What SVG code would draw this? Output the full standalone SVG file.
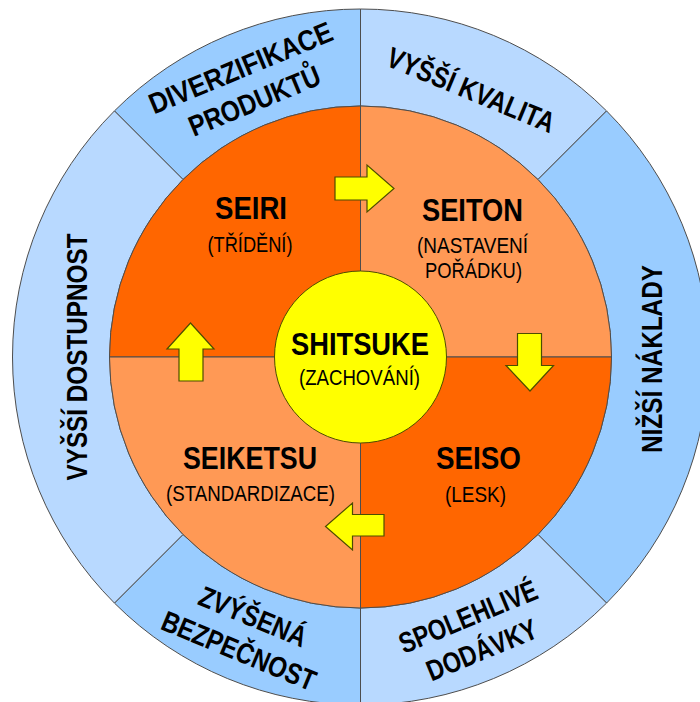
<svg xmlns="http://www.w3.org/2000/svg" width="700" height="702" viewBox="0 0 700 702">
  <style>
    .seg { stroke: #4d4d4d; stroke-width: 1; }
    .blue-d { fill: #99CCFF; }
    .blue-l { fill: #B8D9FF; }
    .org-d { fill: #FF6600; }
    .org-l { fill: #FF9955; }
    .core { fill: #FFFF00; stroke: #4d4d00; stroke-width: 1; }
    .arrow { fill: #FFFF00; stroke: #4d4d00; stroke-width: 1.2; stroke-linejoin: miter; }
    text { font-family: "Liberation Sans", Arial, sans-serif; fill: #000; text-anchor: middle; }
    .t-main { font-weight: bold; font-size: 31px; }
    .t-sub { font-size: 22px; }
    .t-ring { font-weight: bold; font-size: 29px; }
  </style>

  <rect width="700" height="702" fill="#FFFFFF"/>

  <!-- outer ring: benefits -->
  <g id="ring-diverzifikace">
    <path class="seg blue-d" d="M114.43,110.93 A348,348 0 0 1 360.5,9 L360.5,106 A251,251 0 0 0 183.02,179.52 Z"/>
    <text class="t-ring" transform="rotate(-22.5 360.5 357)" x="360.5" y="54" textLength="196" lengthAdjust="spacingAndGlyphs">DIVERZIFIKACE</text>
    <text class="t-ring" transform="rotate(-22.5 360.5 357)" x="360.5" y="90" textLength="140" lengthAdjust="spacingAndGlyphs">PRODUKTŮ</text>
  </g>
  <g id="ring-kvalita">
    <path class="seg blue-l" d="M360.5,9 A348,348 0 0 1 606.57,110.93 L537.98,179.52 A251,251 0 0 0 360.5,106 Z"/>
    <text class="t-ring" transform="rotate(22.5 360.5 357)" x="360.5" y="78" textLength="179" lengthAdjust="spacingAndGlyphs">VYŠŠÍ KVALITA</text>
  </g>
  <g id="ring-naklady">
    <path class="seg blue-d" d="M606.57,110.93 A348,348 0 0 1 606.57,603.07 L537.98,534.48 A251,251 0 0 0 537.98,179.52 Z"/>
    <text class="t-ring" transform="translate(662 359) rotate(-90)" x="0" y="0" textLength="188" lengthAdjust="spacingAndGlyphs">NIŽŠÍ NÁKLADY</text>
  </g>
  <g id="ring-dodavky">
    <path class="seg blue-l" d="M606.57,603.07 A348,348 0 0 1 360.5,705 L360.5,608 A251,251 0 0 0 537.98,534.48 Z"/>
    <text class="t-ring" transform="rotate(-22.5 360.5 357)" x="360.5" y="648" textLength="147" lengthAdjust="spacingAndGlyphs">SPOLEHLIVÉ</text>
    <text class="t-ring" transform="rotate(-22.5 360.5 357)" x="360.5" y="684" textLength="117" lengthAdjust="spacingAndGlyphs">DODÁVKY</text>
  </g>
  <g id="ring-bezpecnost">
    <path class="seg blue-d" d="M360.5,705 A348,348 0 0 1 114.43,603.07 L183.02,534.48 A251,251 0 0 0 360.5,608 Z"/>
    <text class="t-ring" transform="rotate(22.5 360.5 357)" x="360.5" y="648" textLength="114" lengthAdjust="spacingAndGlyphs">ZVÝŠENÁ</text>
    <text class="t-ring" transform="rotate(22.5 360.5 357)" x="360.5" y="685" textLength="164" lengthAdjust="spacingAndGlyphs">BEZPEČNOST</text>
  </g>
  <g id="ring-dostupnost">
    <path class="seg blue-l" d="M114.43,603.07 A348,348 0 0 1 114.43,110.93 L183.02,179.52 A251,251 0 0 0 183.02,534.48 Z"/>
    <text class="t-ring" transform="translate(87 357) rotate(-90)" x="0" y="0" textLength="247" lengthAdjust="spacingAndGlyphs">VYŠŠÍ DOSTUPNOST</text>
  </g>

  <!-- inner quadrants: the 5S steps -->
  <g id="seiri">
    <path class="seg org-d" d="M360.5,357 L109.5,357 A251,251 0 0 1 360.5,106 Z"/>
    <text class="t-main" x="251" y="219" textLength="72" lengthAdjust="spacingAndGlyphs">SEIRI</text>
    <text class="t-sub" x="250" y="252" textLength="85" lengthAdjust="spacingAndGlyphs">(TŘÍDĚNÍ)</text>
  </g>
  <g id="seiton">
    <path class="seg org-l" d="M360.5,357 L360.5,106 A251,251 0 0 1 611.5,357 Z"/>
    <text class="t-main" x="472.5" y="221" textLength="101" lengthAdjust="spacingAndGlyphs">SEITON</text>
    <text class="t-sub" x="472.5" y="253" textLength="111" lengthAdjust="spacingAndGlyphs">(NASTAVENÍ</text>
    <text class="t-sub" x="473.5" y="278" textLength="97" lengthAdjust="spacingAndGlyphs">POŘÁDKU)</text>
  </g>
  <g id="seiso">
    <path class="seg org-d" d="M360.5,357 L611.5,357 A251,251 0 0 1 360.5,608 Z"/>
    <text class="t-main" x="478.5" y="469" textLength="85" lengthAdjust="spacingAndGlyphs">SEISO</text>
    <text class="t-sub" x="475.5" y="502" textLength="61" lengthAdjust="spacingAndGlyphs">(LESK)</text>
  </g>
  <g id="seiketsu">
    <path class="seg org-l" d="M360.5,357 L360.5,608 A251,251 0 0 1 109.5,357 Z"/>
    <text class="t-main" x="250" y="469" textLength="134" lengthAdjust="spacingAndGlyphs">SEIKETSU</text>
    <text class="t-sub" x="250.5" y="501" textLength="169" lengthAdjust="spacingAndGlyphs">(STANDARDIZACE)</text>
  </g>

  <!-- centre -->
  <g id="shitsuke">
    <circle class="core" cx="360.5" cy="357" r="86"/>
    <text class="t-main" x="360" y="355" textLength="138" lengthAdjust="spacingAndGlyphs">SHITSUKE</text>
    <text class="t-sub" x="359.5" y="385" textLength="121" lengthAdjust="spacingAndGlyphs">(ZACHOVÁNÍ)</text>
  </g>

  <!-- cycle arrows between the steps -->
  <g id="connectors">
    <path class="arrow" d="M335,177 L367,177 L367,165 L394,188.5 L367,212 L367,200 L335,200 Z"/>
    <path class="arrow" d="M517.5,333.5 L541.5,333.5 L541.5,365.5 L553.5,365.5 L530,391 L506,365.5 L517.5,365.5 Z"/>
    <path class="arrow" d="M384,514.5 L384,536 L352.5,536 L352.5,550 L325.5,526.5 L352.5,503 L352.5,514.5 Z"/>
    <path class="arrow" d="M179,381 L179,349 L167,349 L190.5,323 L214,349 L203,349 L203,381 Z"/>
  </g>
</svg>
